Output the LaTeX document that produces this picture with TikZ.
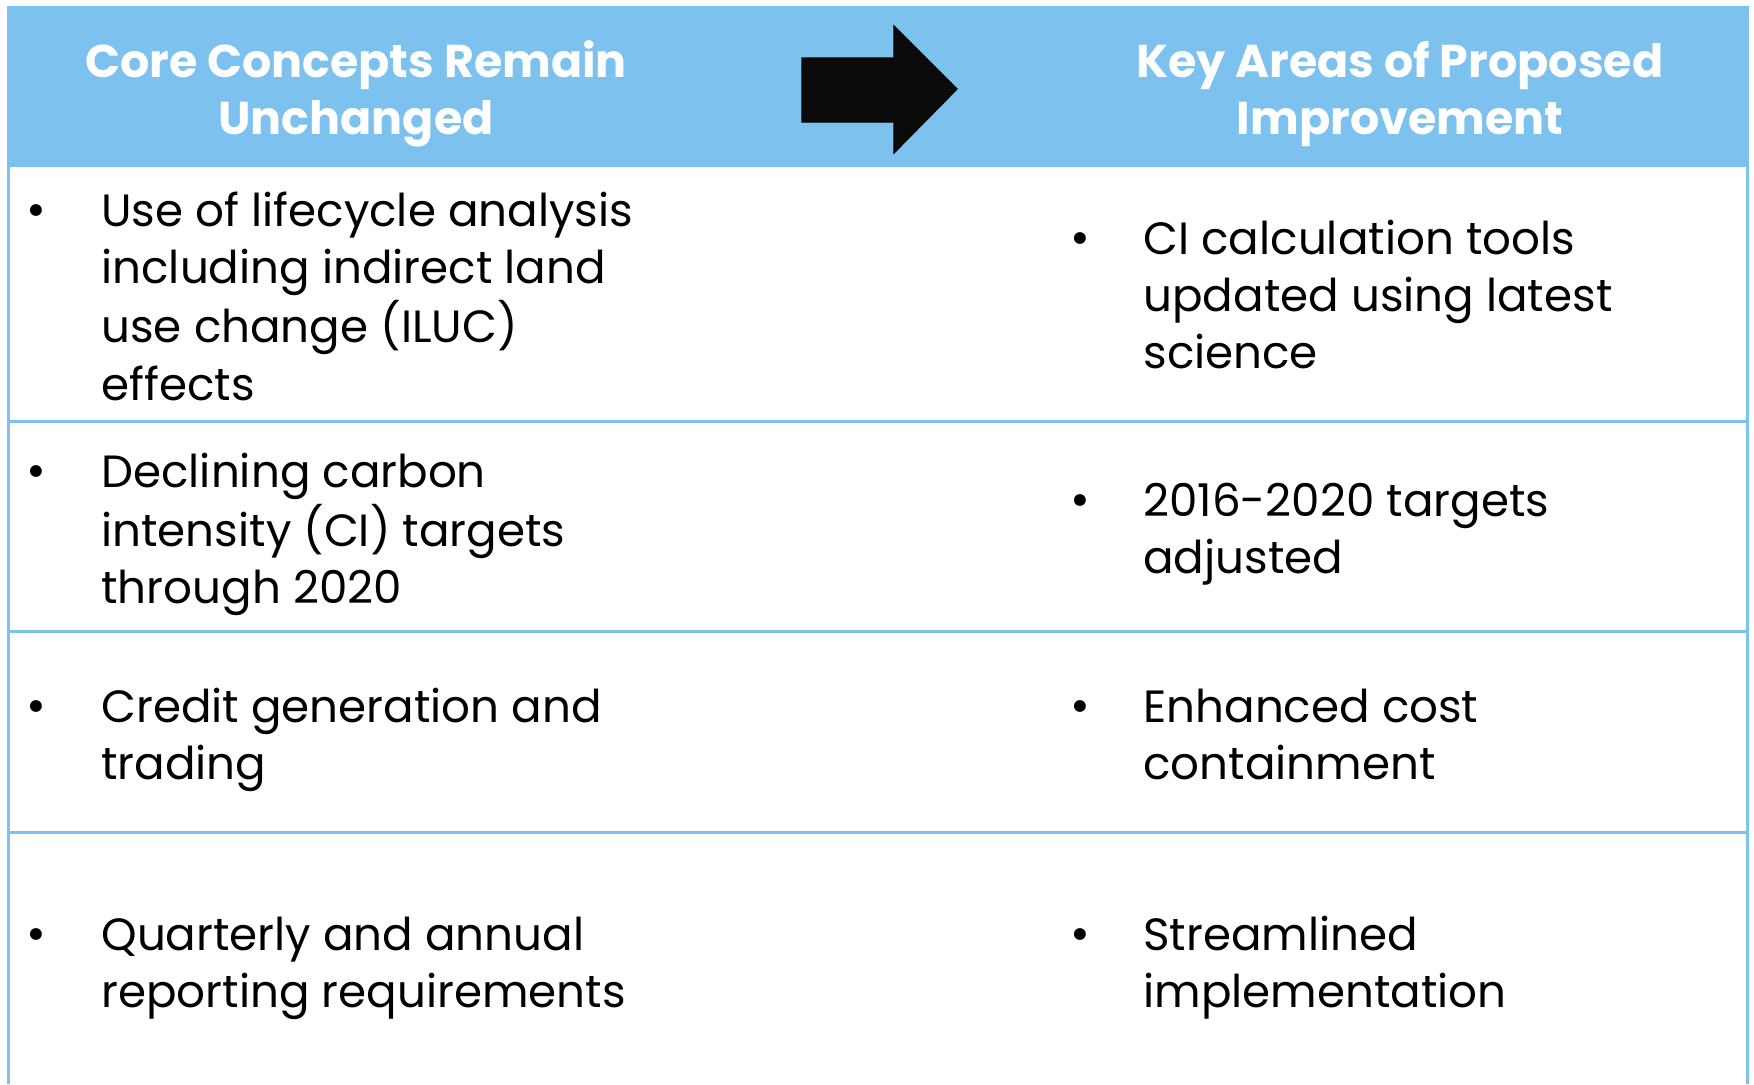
\documentclass[tikz,border=0pt]{standalone}
\usepackage{fontspec}
\setmainfont{Poppins}
\definecolor{hdrblue}{HTML}{7DC1EE}
\definecolor{arrowfill}{HTML}{0B0B0B}
\tikzset{
  body/.style={anchor=base west, inner sep=0pt, font=\fontsize{22.6}{28.7}\selectfont, text=black},
  bul/.style={anchor=base, inner sep=0pt, font=\fontsize{24}{28.7}\selectfont, text=black},
  hdr/.style={anchor=base, inner sep=0pt, font=\fontsize{23}{28.7}\selectfont\bfseries, text=white},
  rule/.style={draw=hdrblue, line width=1.5pt}
}
\newcommand\lines[1]{\begin{tabular}[t]{@{}l@{}}#1\end{tabular}}
\newcommand\clines[1]{\begin{tabular}[t]{@{}c@{}}#1\end{tabular}}
\begin{document}
\begin{tikzpicture}[x=0.5pt,y=-0.5pt]
\useasboundingbox (0,0) rectangle (1754,1084);
% header band
\fill[hdrblue] (8,6) rectangle (1747,167);
% borders and row rules
\draw[rule] (8,6) -- (8,1084);
\draw[rule] (1747,6) -- (1747,1084);
\draw[rule] (8,421) -- (1747,421);
\draw[rule] (8,631) -- (1747,631);
\draw[rule] (8,832) -- (1747,832);
% arrow
\fill[arrowfill, draw=black, line width=0.6pt, line join=miter]
  (802,58) -- (894,58) -- (894,26) -- (957,89) -- (894,153) -- (894,122) -- (802,122) -- cycle;
% header texts
\node[hdr] (hl) at (356,77) {\clines{Core Concepts Remain\\Unchanged}};
\node[hdr] (hr) at (1400,77) {\clines{Key Areas of Proposed\\Improvement}};
% left column
\node[bul] (b1) at (36,226) {\textbullet};
\node[body] (l1) at (101,226) {\lines{Use of lifecycle analysis\\including indirect land\\use change (ILUC)\\effects}};
\node[bul] (b2) at (36,487) {\textbullet};
\node[body] (l2) at (101,487) {\lines{Declining carbon\\intensity (CI) targets\\through 2020}};
\node[bul] (b3) at (36,722) {\textbullet};
\node[body] (l3) at (101,722) {\lines{Credit generation and\\trading}};
\node[bul] (b4) at (36,950) {\textbullet};
\node[body] (l4) at (101,950) {\lines{Quarterly and annual\\reporting requirements}};
% right column
\node[bul] (c1) at (1080,254) {\textbullet};
\node[body] (r1) at (1143,254) {\lines{CI calculation tools\\updated using latest\\science}};
\node[bul] (c2) at (1080,516) {\textbullet};
\node[body] (r2) at (1143,516) {\lines{2016-2020 targets\\adjusted}};
\node[bul] (c3) at (1080,722) {\textbullet};
\node[body] (r3) at (1143,722) {\lines{Enhanced cost\\containment}};
\node[bul] (c4) at (1080,950) {\textbullet};
\node[body] (r4) at (1143,950) {\lines{Streamlined\\implementation}};
\end{tikzpicture}
\end{document}
